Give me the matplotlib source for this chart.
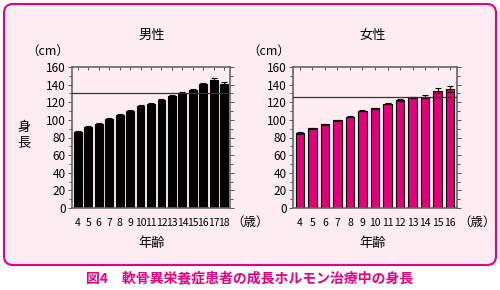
import numpy as np
import matplotlib
matplotlib.use("Agg")
import matplotlib.pyplot as plt
from matplotlib.patches import FancyBboxPatch

plt.rcParams['font.family'] = ['Noto Sans CJK JP', 'DejaVu Sans']

# data
male_ages = ["4", "5", "6", "7", "8", "9", "10", "11", "12", "13", "14", "15", "16", "17", "18"]
male_height = [86, 92, 95, 101, 106, 110.5, 115.5, 118.5, 122, 127, 130, 133.5, 140.5, 145, 141]
male_err = [1, 1, 1, 1, 1, 1, 1, 1, 1.5, 1.5, 1.5, 1.5, 1.5, 2.5, 2]
male_ref = 130

female_ages = ["4", "5", "6", "7", "8", "9", "10", "11", "12", "13", "14", "15", "16"]
female_height = [85, 90.5, 95, 99.5, 103.5, 110.5, 113, 118.5, 122.5, 125.5, 126.5, 133, 135]
female_err = [0.7, 0.7, 0.7, 0.7, 0.8, 0.8, 1, 1, 1, 1, 2, 3, 3.5]
female_ref = 126

bg = '#fdedf2'
pink = '#e4007f'
bar_pink = '#e0007a'

W, H = 500, 290
fig = plt.figure(figsize=(5, 2.9), dpi=100)
fig.patch.set_facecolor('white')

frame = FancyBboxPatch((0.04, 0.25), 4.92, 2.61, boxstyle="round,pad=0,rounding_size=0.09",
                       transform=fig.dpi_scale_trans, facecolor=bg, edgecolor=pink, linewidth=1.5,
                       zorder=-5)
fig.patches.append(frame)


def panel(rect, ages, heights, errs, ref, color, width, title, tx):
    ax = fig.add_axes([rect[0] / W, 1 - rect[3] / H, (rect[2] - rect[0]) / W, (rect[3] - rect[1]) / H])
    ax.set_facecolor(bg)
    x = np.arange(len(ages))
    ax.bar(x, heights, width=width, color=color, edgecolor='black', linewidth=0.8, zorder=2)
    ax.errorbar(x, heights, yerr=errs, fmt='none', ecolor='black', elinewidth=0.8,
                capsize=2, capthick=0.8, zorder=3)
    ax.axhline(ref, color='#333333', linewidth=0.9, zorder=4)
    ax.set_xlim(-0.55, len(ages) - 0.45)
    ax.set_ylim(0, 160)
    ax.set_yticks(np.arange(0, 161, 20))
    ax.set_yticks(np.arange(0, 161, 10), minor=True)
    ax.set_xticks(x)
    ax.set_xticklabels(ages, fontsize=7.5)
    ax.tick_params(axis='y', labelsize=8.5, direction='out', length=3, width=0.7, right=True,
                   pad=1.5, colors='#555555', labelcolor='black')
    ax.tick_params(axis='y', which='minor', direction='out', length=2, width=0.7, right=True,
                   colors='#555555')
    ax.tick_params(axis='x', direction='in', length=2.5, width=0.7, top=True, bottom=False,
                   pad=7, colors='#555555', labelcolor='black')
    for s in ax.spines.values():
        s.set_color('#666666')
        s.set_linewidth(1.2)
    fig.text(tx / W, 1 - 35 / H, title, ha='center', va='center', fontsize=9.5)
    fig.text(tx / W, 1 - 244 / H, '年齢', ha='center', va='center', fontsize=9.5)
    fig.text((rect[0] - 3) / W, 1 - 51 / H, '（cm）', ha='right', va='center', fontsize=9)
    fig.text((rect[2] + 1) / W, 1 - 222 / H, '（歳）', ha='left', va='center', fontsize=9)
    return ax


panel((72, 67, 230, 208), male_ages, male_height, male_err, male_ref, 'black', 0.75, '男性', 152)
panel((293, 67, 457, 208), female_ages, female_height, female_err, female_ref, bar_pink, 0.7, '女性', 373)

fig.text(24 / W, 1 - 128 / H, '身', ha='center', va='center', fontsize=9.5)
fig.text(24 / W, 1 - 143 / H, '長', ha='center', va='center', fontsize=9.5)

fig.text(250 / W, 1 - 278 / H, '図4　軟骨異栄養症患者の成長ホルモン治療中の身長', ha='center', va='center',
         fontsize=10, color=pink, fontweight='bold')

fig.savefig('out.png', dpi=100, facecolor=fig.get_facecolor())
